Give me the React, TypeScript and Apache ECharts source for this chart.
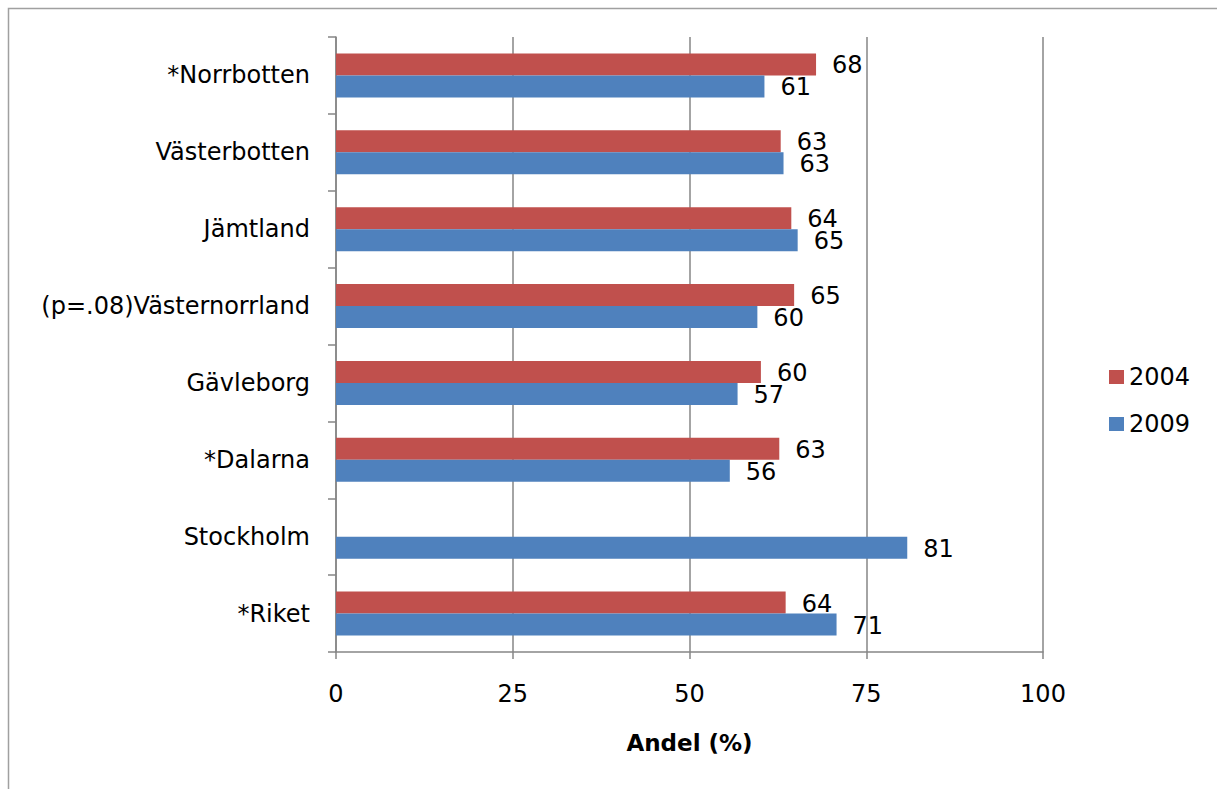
import React, { useEffect, useRef } from "react";
import * as echarts from "echarts";

const categories = [
  "*Norrbotten",
  "Västerbotten",
  "Jämtland",
  "(p=.08)Västernorrland",
  "Gävleborg",
  "*Dalarna",
  "Stockholm",
  "*Riket",
];
const values2004: (number | null)[] = [67.9, 62.9, 64.4, 64.8, 60.1, 62.7, null, 63.6];
const values2009: number[] = [60.6, 63.3, 65.3, 59.6, 56.8, 55.7, 80.8, 70.8];
const seriesNames = ["2004", "2009"];
const xTicks = { min: 0, max: 100, interval: 25 };
const axisTitle = "Andel (%)";

const FONT = "'DejaVu Sans', sans-serif";
const AXIS_COLOR = "#868686";

export default function App() {
  const ref = useRef<HTMLDivElement>(null);
  useEffect(() => {
    document.body.style.margin = "0";
    if (!ref.current) return;
    const chart = echarts.init(ref.current, null, { renderer: "svg" });
    const labelCfg = {
      show: true,
      position: "right",
      distance: 16,
      fontSize: 24,
      color: "#000",
      fontFamily: FONT,
      offset: [0, 1],
      formatter: (p: any) => String(Math.round(p.value)),
    };
    chart.setOption({
      animation: false,
      textStyle: { fontFamily: FONT },
      graphic: [
        {
          type: "rect",
          shape: { x: 8.5, y: 8.5, width: 1400, height: 1000 },
          style: { fill: "none", stroke: "#a0a0a0", lineWidth: 1.5 },
          silent: true,
        },
      ],
      grid: { left: 336, top: 37, width: 707, height: 615, containLabel: false },
      legend: {
        orient: "vertical",
        left: 1109,
        top: 365,
        padding: 0,
        itemGap: 23,
        itemWidth: 15,
        itemHeight: 14,
        icon: "rect",
        data: seriesNames,
        textStyle: { fontSize: 24, color: "#000", fontFamily: FONT, lineHeight: 24, padding: [0, 0, 0, 0] },
      },
      xAxis: {
        type: "value",
        min: xTicks.min,
        max: xTicks.max,
        interval: xTicks.interval,
        name: axisTitle,
        nameLocation: "middle",
        nameGap: 79,
        nameTextStyle: { fontSize: 23, fontWeight: "bold", color: "#000", fontFamily: FONT },
        axisLine: { show: true, lineStyle: { color: AXIS_COLOR, width: 1.5 } },
        axisTick: { show: true, length: 7, lineStyle: { color: AXIS_COLOR, width: 1.5 } },
        splitLine: { show: true, lineStyle: { color: AXIS_COLOR, width: 1.5 } },
        axisLabel: { fontSize: 24, color: "#000", margin: 30, fontFamily: FONT },
      },
      yAxis: {
        type: "category",
        inverse: true,
        data: categories,
        axisLine: { show: true, lineStyle: { color: AXIS_COLOR, width: 1.5 } },
        axisTick: { show: true, length: 8, lineStyle: { color: AXIS_COLOR, width: 1.5 } },
        axisLabel: { fontSize: 24, color: "#000", margin: 26, fontFamily: FONT },
        splitLine: { show: false },
      },
      series: [
        {
          name: seriesNames[0],
          type: "bar",
          data: values2004,
          barWidth: 22,
          barGap: "0%",
          itemStyle: { color: "#C0504D" },
          label: labelCfg,
        },
        {
          name: seriesNames[1],
          type: "bar",
          data: values2009,
          barWidth: 22,
          barGap: "0%",
          itemStyle: { color: "#4F81BD" },
          label: labelCfg,
        },
      ],
    });
    return () => chart.dispose();
  }, []);
  return <div ref={ref} style={{ width: 1217, height: 789, overflow: "hidden" }} />;
}
